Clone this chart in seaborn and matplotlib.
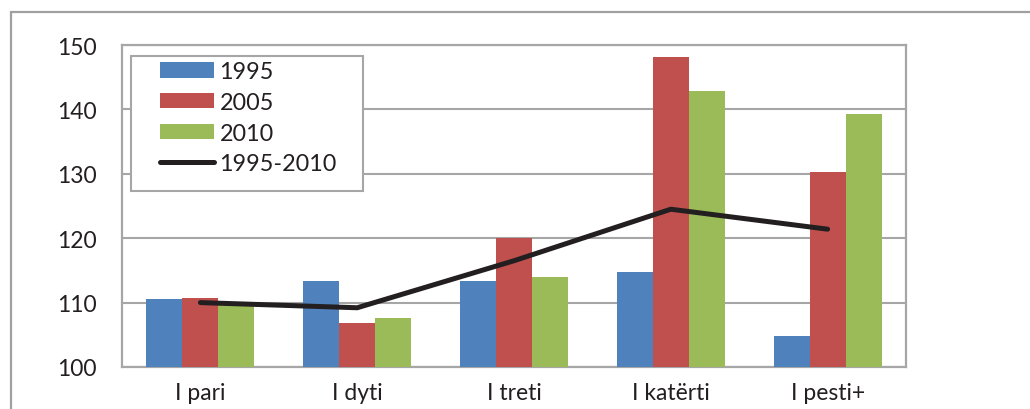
import matplotlib
matplotlib.use("Agg")
import matplotlib.pyplot as plt
from matplotlib.patches import Rectangle, Patch
from matplotlib.lines import Line2D
import seaborn as sns
import pandas as pd

# Categories (birth order) and index values per year
categories = ["I pari", "I dyti", "I treti", "I katërti", "I pesti+"]
years = ["1995", "2005", "2010"]
vals_1995 = [110.6, 113.4, 113.4, 114.8, 104.8]
vals_2005 = [110.7, 106.8, 120.0, 148.1, 130.3]
vals_2010 = [109.6, 107.6, 114.0, 142.9, 139.3]
change_label = "1995-2010"
change_vals = [110.0, 109.2, 116.5, 124.5, 121.4]
y_ticks = [100, 110, 120, 130, 140, 150]

bar_colors = ["#4F81BD", "#C0504D", "#9BBB59"]
line_color = "#231F20"
text_color = "#231F20"
grid_color = "#A6A6A6"

sns.set_theme(style="white")
plt.rcParams["font.family"] = ["Lato", "DejaVu Sans"]

df = pd.DataFrame({
    "cat": categories * 3,
    "year": [y for y in years for _ in categories],
    "value": vals_1995 + vals_2005 + vals_2010,
})

fig = plt.figure(figsize=(10.3, 4.1), dpi=100)
ax = fig.add_axes([122 / 1030, 42 / 410, 784 / 1030, 322 / 410])

sns.barplot(data=df, x="cat", y="value", hue="year", order=categories,
            hue_order=years, palette=bar_colors, width=0.69, gap=0,
            saturation=1, errorbar=None, ax=ax, legend=False, zorder=3,
            linewidth=0)
sns.pointplot(x=categories, y=change_vals, order=categories, color=line_color,
              marker="", errorbar=None, ax=ax, linewidth=3.6, zorder=5)
for ln in ax.lines:
    ln.set_solid_capstyle("round")
    ln.set_solid_joinstyle("round")

ax.set_ylim(100, 150)
ax.set_xlim(-0.5, len(categories) - 0.5)
ax.set_yticks(y_ticks)
ax.set_yticklabels([str(t) for t in y_ticks])
ax.yaxis.grid(True, color=grid_color, linewidth=1.5, zorder=0)
ax.set_axisbelow(True)
ax.set_xlabel("")
ax.set_ylabel("")
for s in ax.spines.values():
    s.set_visible(True)
    s.set_color(grid_color)
    s.set_linewidth(1.6)
ax.tick_params(axis="both", length=0, labelsize=16.5, labelcolor=text_color)
ax.tick_params(axis="y", pad=18)
ax.tick_params(axis="x", pad=11)

# Legend: hand-drawn frame around a frameless legend
handles = [Patch(facecolor=c, edgecolor="none") for c in bar_colors]
handles.append(Line2D([], [], color=line_color, linewidth=3.6,
                      solid_capstyle="round"))
labels = years + [change_label]
frame = Rectangle((9 / 784, (368 - 192) / 322), 232 / 784, 135 / 322,
                  transform=ax.transAxes, facecolor="white",
                  edgecolor=grid_color, linewidth=1.5, zorder=6)
ax.add_patch(frame)
leg = ax.legend(handles, labels, loc="upper left",
                bbox_to_anchor=(38 / 784, (368 - 62) / 322),
                borderaxespad=0, borderpad=0, frameon=False,
                fontsize=16.8, handlelength=2.3, handleheight=0.65,
                handletextpad=0.25, labelspacing=0.42)
leg.set_zorder(7)
for t in leg.get_texts():
    t.set_color(text_color)

# Outer chart-area border
fig.add_artist(Rectangle((11 / 1030, -0.1), 1.2, 1 - 13 / 410 + 0.1,
                         transform=fig.transFigure, facecolor="none",
                         edgecolor="#A0A0A0", linewidth=1.6))

fig.savefig("out.png", dpi=100)
